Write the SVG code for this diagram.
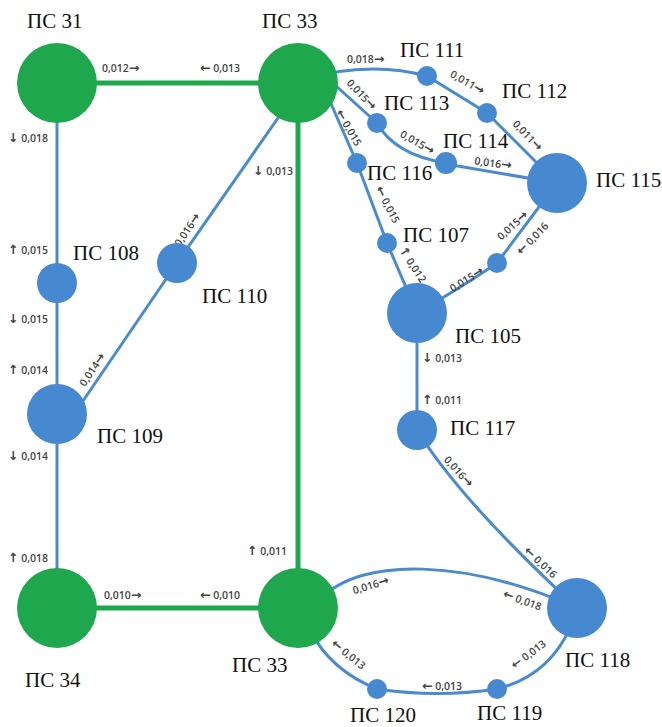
<svg xmlns="http://www.w3.org/2000/svg" width="662" height="727" viewBox="0 0 662 727">
  <style>
    .bg { fill: #ffffff; }
    .main { fill: none; stroke: #1ea74c; stroke-width: 5; }
    .line { fill: none; stroke: #4a8bcf; stroke-width: 3; }
    .gn { fill: #1ea74c; }
    .bn { fill: #4689d1; }
    .name { font-family: "Liberation Serif", "Times New Roman", serif; font-size: 21px; fill: #111; }
    .flow { font-family: "Open Sans", "DejaVu Sans", sans-serif; font-size: 10.5px; font-weight: 600; fill: #444; }
    .flow tspan { font-family: "DejaVu Sans", sans-serif; font-size: 12.5px; font-weight: bold; }
    .mid { text-anchor: middle; }
  </style>
  <rect class="bg" x="0" y="0" width="662" height="727"/>

  <!-- connectors -->
  <g id="connectors">
    <!-- trunk lines -->
    <line class="main" x1="57" y1="83" x2="298" y2="83"/>
    <line class="main" x1="57" y1="608" x2="298" y2="608"/>
    <line class="main" x1="298" y1="83" x2="298" y2="608"/>
    <!-- west branch -->
    <line class="line" x1="57" y1="83" x2="57" y2="608"/>
    <polyline class="line" points="70,420 177,263 285,108"/>
    <!-- north-east branches -->
    <path class="line" d="M298,80 Q370,60 427,76"/>
    <polyline class="line" points="427,76 487,113 557,183"/>
    <line class="line" x1="325" y1="76" x2="377" y2="123"/>
    <path class="line" d="M377,123 Q395,155 446,163"/>
    <line class="line" x1="446" y1="164" x2="557" y2="183"/>
    <polyline class="line" points="325,90 357,163 387,243 417,313"/>
    <path class="line" d="M417,313 Q465,285 497,263"/>
    <line class="line" x1="497" y1="263" x2="557" y2="183"/>
    <!-- south-east branches -->
    <line class="line" x1="417" y1="313" x2="417" y2="430"/>
    <path class="line" d="M417,430 Q460,500 577,608"/>
    <path class="line" d="M320,600 C360,555 470,560 577,608"/>
    <path class="line" d="M310,630 Q330,670 377,689"/>
    <path class="line" d="M377,689 Q437,698 497,689"/>
    <path class="line" d="M497,689 Q548,676 570,628"/>
  </g>

  <!-- flow labels -->
  <g id="flows">
    <text class="flow" x="102" y="72">0,012<tspan>→</tspan></text>
    <text class="flow" x="200" y="72"><tspan>←</tspan> 0,013</text>
    <text class="flow" x="8" y="142"><tspan>↓</tspan> 0,018</text>
    <text class="flow" x="253" y="175"><tspan>↓</tspan> 0,013</text>
    <text class="flow" x="8" y="254"><tspan>↑</tspan> 0,015</text>
    <text class="flow" x="8" y="323"><tspan>↓</tspan> 0,015</text>
    <text class="flow" x="8" y="374"><tspan>↑</tspan> 0,014</text>
    <text class="flow" x="8" y="460"><tspan>↓</tspan> 0,014</text>
    <text class="flow" x="8" y="562"><tspan>↑</tspan> 0,018</text>
    <text class="flow" x="247" y="555"><tspan>↑</tspan> 0,011</text>
    <text class="flow" x="104" y="599">0,010<tspan>→</tspan></text>
    <text class="flow" x="200" y="599"><tspan>←</tspan> 0,010</text>
    <text class="flow mid" transform="translate(188,230) rotate(-56)" y="3">0,016<tspan>→</tspan></text>
    <text class="flow mid" transform="translate(93,370) rotate(-56)" y="3">0,014<tspan>→</tspan></text>
    <text class="flow" x="347" y="63">0,018<tspan>→</tspan></text>
    <text class="flow mid" transform="translate(467,83) rotate(30)" y="3">0,011<tspan>→</tspan></text>
    <text class="flow mid" transform="translate(527,136) rotate(47)" y="3">0,011<tspan>→</tspan></text>
    <text class="flow mid" transform="translate(361,95) rotate(47)" y="3">0,015<tspan>→</tspan></text>
    <text class="flow mid" transform="translate(348,128) rotate(60)" y="3"><tspan>←</tspan> 0,015</text>
    <text class="flow mid" transform="translate(417,143) rotate(30)" y="3">0,015<tspan>→</tspan></text>
    <text class="flow mid" transform="translate(493,164) rotate(8)" y="3">0,016<tspan>→</tspan></text>
    <text class="flow mid" transform="translate(387,205) rotate(63)" y="3"><tspan>←</tspan> 0,015</text>
    <text class="flow mid" transform="translate(412,265) rotate(57)" y="3"><tspan>↑</tspan> 0,012</text>
    <text class="flow mid" transform="translate(467,280) rotate(-32)" y="3">0,015<tspan>→</tspan></text>
    <text class="flow mid" transform="translate(513,226) rotate(-42)" y="3">0,015<tspan>→</tspan></text>
    <text class="flow mid" transform="translate(533,239) rotate(-46)" y="3"><tspan>←</tspan> 0,016</text>
    <text class="flow" x="422" y="362"><tspan>↓</tspan> 0,013</text>
    <text class="flow" x="422" y="404"><tspan>↑</tspan> 0,011</text>
    <text class="flow mid" transform="translate(458,472) rotate(48)" y="3">0,016<tspan>→</tspan></text>
    <text class="flow mid" transform="translate(540,563) rotate(43)" y="3"><tspan>←</tspan> 0,016</text>
    <text class="flow mid" transform="translate(371,586) rotate(-17)" y="3">0,016<tspan>→</tspan></text>
    <text class="flow mid" transform="translate(522,601) rotate(20)" y="3"><tspan>←</tspan> 0,018</text>
    <text class="flow mid" transform="translate(348,655) rotate(39)" y="3"><tspan>←</tspan> 0,013</text>
    <text class="flow" x="422" y="690"><tspan>←</tspan> 0,013</text>
    <text class="flow mid" transform="translate(529,655) rotate(-37)" y="3"><tspan>←</tspan> 0,013</text>
  </g>

  <!-- nodes -->
  <g id="ps31"><circle class="gn" cx="57" cy="83" r="40"/><text class="name" x="27" y="28">ПС 31</text></g>
  <g id="ps33-north"><circle class="gn" cx="298" cy="83" r="40"/><text class="name" x="262" y="28">ПС 33</text></g>
  <g id="ps34"><circle class="gn" cx="57" cy="608" r="40"/><text class="name" x="25" y="687">ПС 34</text></g>
  <g id="ps33-south"><circle class="gn" cx="298" cy="608" r="40"/><text class="name" x="232" y="672">ПС 33</text></g>
  <g id="ps108"><circle class="bn" cx="57" cy="283" r="20"/><text class="name" x="73" y="260">ПС 108</text></g>
  <g id="ps109"><circle class="bn" cx="57" cy="414" r="30"/><text class="name" x="97" y="443">ПС 109</text></g>
  <g id="ps110"><circle class="bn" cx="177" cy="263" r="20"/><text class="name" x="202" y="303">ПС 110</text></g>
  <g id="ps111"><circle class="bn" cx="427" cy="76" r="10"/><text class="name" x="400" y="57">ПС 111</text></g>
  <g id="ps112"><circle class="bn" cx="487" cy="113" r="10"/><text class="name" x="502" y="98">ПС 112</text></g>
  <g id="ps113"><circle class="bn" cx="377" cy="123" r="10"/><text class="name" x="384" y="110">ПС 113</text></g>
  <g id="ps114"><circle class="bn" cx="446" cy="163" r="11"/><text class="name" x="443" y="148">ПС 114</text></g>
  <g id="ps115"><circle class="bn" cx="557" cy="183" r="30"/><text class="name" x="596" y="187">ПС 115</text></g>
  <g id="ps116"><circle class="bn" cx="357" cy="163" r="10"/><text class="name" x="367" y="180">ПС 116</text></g>
  <g id="ps107"><circle class="bn" cx="387" cy="243" r="10"/><text class="name" x="403" y="242">ПС 107</text></g>
  <g id="junction"><circle class="bn" cx="497" cy="263" r="10"/></g>
  <g id="ps105"><circle class="bn" cx="417" cy="313" r="30"/><text class="name" x="455" y="343">ПС 105</text></g>
  <g id="ps117"><circle class="bn" cx="417" cy="430" r="20"/><text class="name" x="450" y="435">ПС 117</text></g>
  <g id="ps118"><circle class="bn" cx="577" cy="608" r="30"/><text class="name" x="565" y="667">ПС 118</text></g>
  <g id="ps119"><circle class="bn" cx="497" cy="689" r="10"/><text class="name" x="477" y="720">ПС 119</text></g>
  <g id="ps120"><circle class="bn" cx="377" cy="689" r="10"/><text class="name" x="350" y="722">ПС 120</text></g>
</svg>
